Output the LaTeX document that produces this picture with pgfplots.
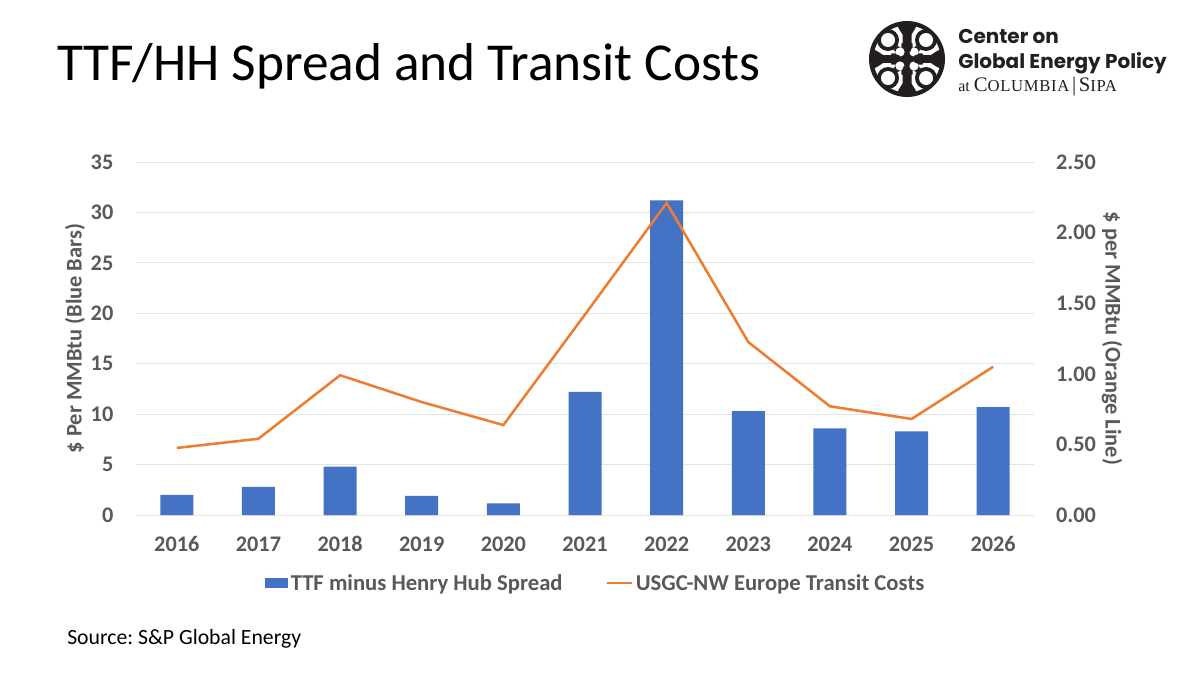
\documentclass[border=0pt]{standalone}
\usepackage{fontspec}
\setmainfont{Carlito}
\newfontfamily\logofont{Poppins}
\newfontfamily\serifcaps{Liberation Serif}
\usepackage{pgfplots}
\pgfplotsset{compat=1.18}
\frenchspacing
\definecolor{barblue}{HTML}{4472C4}
\definecolor{lineorange}{HTML}{ED7D31}
\definecolor{labelgray}{HTML}{595959}
\definecolor{gridgray}{HTML}{E4E4E4}
\definecolor{logoblack}{HTML}{231F20}
\pgfplotsset{
  chartbase/.style={
    scale only axis,
    width=673.5pt, height=264.75pt,
    at={(102pt,-386.25pt)}, anchor=south west,
    xmin=2015.5, xmax=2026.5,
    ymin=0,
    /pgf/number format/assume math mode=true,
    /pgf/number format/1000 sep={},
    tick style={draw=none},
    ticklabel style={font=\fontsize{16.7}{18}\selectfont\bfseries, text=labelgray},
    ylabel style={font=\fontsize{16.8}{18}\selectfont\bfseries, text=labelgray},
  }
}
\begin{document}
\begin{tikzpicture}[x=0.75pt,y=-0.75pt]
\useasboundingbox (0,0) rectangle (1200,675);
\fill[white] (0,0) rectangle (1200,675);

\node[anchor=base west,inner sep=0pt,font=\fontsize{40}{44}\selectfont] at (57,80) {TTF/HH Spread and Transit Costs};

% left axis, bars
\begin{axis}[chartbase,
  axis x line*=bottom, axis y line*=left,
  axis line style={draw=none},
  x axis line style={draw=gridgray},
  ymax=35, ytick={0,5,...,35},
  xtick=data,
  ymajorgrids, grid style={gridgray,line width=0.75pt},
  ylabel={\$ Per MMBtu (Blue Bars)},
  ylabel style={at={(axis description cs:-0.068,0.5)},anchor=center},
  xticklabel style={yshift=-13pt,text height=11pt,text depth=0pt},
  yticklabel style={xshift=-13.5pt},
]
\addplot[ybar,bar width=24.75pt,fill=barblue,draw=none] table {
x y
2016 2.0
2017 2.8
2018 4.8
2019 1.9
2020 1.15
2021 12.2
2022 31.2
2023 10.3
2024 8.6
2025 8.3
2026 10.7
};
\end{axis}

% right axis, line
\begin{axis}[chartbase,
  axis x line=none, axis y line*=right,
  axis line style={draw=none},
  ymax=2.5, ytick={0,0.5,...,2.5},
  yticklabel style={xshift=13pt,/pgf/number format/fixed,/pgf/number format/fixed zerofill,/pgf/number format/precision=2},
  ylabel={\$ per MMBtu (Orange Line)},
  ylabel style={at={(axis description cs:1.087,0.5)},anchor=center,rotate=180},
  legend columns=2,
  legend style={draw=none,fill=none,at={(axis description cs:0.5125,-0.193)},anchor=center,
    font=\fontsize{17}{18}\selectfont\bfseries,text=labelgray,
    /tikz/every even column/.style={column sep=30pt},
    inner sep=0pt},
  legend cell align=left,
]
\addlegendimage{area legend,fill=barblue,draw=none,
  legend image code/.code={\fill[barblue] (-2pt,-4pt) rectangle (15pt,3.5pt);}}
\addlegendentry{TTF minus Henry Hub Spread}
\addplot[lineorange,line width=1.9pt,mark=none,
  legend image code/.code={\draw[lineorange,line width=1.9pt] (-4pt,0pt) -- (15pt,0pt);}] table {
x y
2016 0.475
2017 0.54
2018 0.99
2019 0.80
2020 0.637
2021 1.42
2022 2.21
2023 1.225
2024 0.77
2025 0.68
2026 1.05
};
\addlegendentry{USGC-NW Europe Transit Costs}
\end{axis}

\node[anchor=base west,inner sep=0pt,font=\fontsize{16.3}{18}\selectfont] at (67,644) {Source: S\&P Global Energy};

% logo
\fill[logoblack] (907,59) circle (38);
\foreach \r in {0,90,180,270}{
  \begin{scope}[shift={(907,59)},rotate=\r]
    \begin{scope}
      \clip (4.5,-40) rectangle (40,-4.5);
      \fill[white] (0,0) circle (33.5);
    \end{scope}
    \fill[logoblack] (19,-19) circle (11);
    \fill[white] (19,-19) circle (7);
    \fill[logoblack] (4,-24) .. controls (8,-30) and (10,-32) .. (9,-36) -- (2,-36) -- cycle;
    \fill[logoblack] (24,-4) .. controls (30,-8) and (32,-10) .. (36,-9) -- (36,-2) -- cycle;
  \end{scope}
}
\fill[logoblack] (907,59) circle (16.5);
\foreach \r in {0,90,180,270}{
  \begin{scope}[shift={(907,59)},rotate=\r]
    \fill[white] (7,-7) circle (4.6);
    \fill[white] (11,-5.5) -- (20,-6) -- (13,-9) -- cycle;
    \fill[white] (5.5,-11) -- (6,-20) -- (9,-13) -- cycle;
    \fill[logoblack] (0,-10.5) circle (4.6);
  \end{scope}
}
\fill[logoblack] (907,59) circle (3);
\node[anchor=base west,inner sep=0pt,font=\logofont\fontsize{15}{18}\selectfont\bfseries,text=logoblack] at (958,43) {Center on};
\node[anchor=base west,inner sep=0pt,font=\logofont\fontsize{15}{18}\selectfont\bfseries,text=logoblack] at (958,68) {Global Energy Policy};
\node[anchor=base west,inner sep=0pt,font=\serifcaps\fontsize{12}{14}\selectfont,text=logoblack] at (958,91) {at {\fontsize{15.5}{14}\selectfont C}{\addfontfeature{LetterSpace=4}\fontsize{12.5}{14}\selectfont OLUMBIA}\,{\fontsize{15.5}{14}\selectfont|}\,{\fontsize{15.5}{14}\selectfont S}{\addfontfeature{LetterSpace=4}\fontsize{12.5}{14}\selectfont IPA}};
\end{tikzpicture}
\end{document}
